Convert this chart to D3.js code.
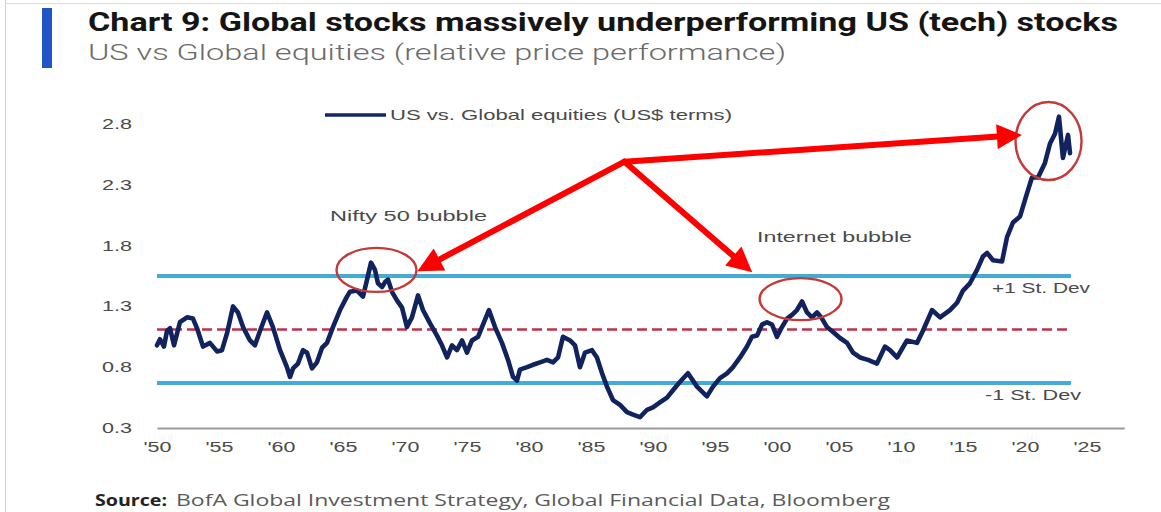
<!DOCTYPE html>
<html>
<head>
<meta charset="utf-8">
<script src="https://cdn.jsdelivr.net/npm/d3@7/dist/d3.min.js"></script>
<style>
  html, body { margin: 0; padding: 0; background: #fff; }
  svg { display: block; }
</style>
</head>
<body>
<svg id="chart" width="1161" height="512"></svg>
<script>
// US vs Global equities, relative price performance (US$ terms)
const years = [
  1950.00, 1950.24, 1950.56, 1950.81, 1951.05, 1951.37, 1951.85, 1952.42, 1952.90, 1953.23,
  1953.71, 1954.27, 1954.84, 1955.24, 1955.65, 1956.13, 1956.53, 1956.94, 1957.50, 1957.90,
  1958.31, 1958.87, 1959.35, 1959.92, 1960.48, 1960.73, 1960.97, 1961.37, 1961.77, 1962.10,
  1962.50, 1962.90, 1963.31, 1963.71, 1964.19, 1964.76, 1965.32, 1965.56, 1966.13, 1966.61,
  1966.94, 1967.26, 1967.58, 1967.82, 1968.15, 1968.39, 1968.63, 1968.95, 1969.35, 1969.76,
  1970.16, 1970.56, 1971.05, 1971.45, 1972.02, 1972.58, 1972.98, 1973.39, 1973.79, 1974.19,
  1974.60, 1975.00, 1975.40, 1975.89, 1976.29, 1976.77, 1977.26, 1977.82, 1978.31, 1978.71,
  1979.03, 1979.27, 1979.84, 1980.32, 1980.89, 1981.45, 1981.94, 1982.34, 1982.74, 1983.31,
  1983.71, 1984.11, 1984.52, 1985.08, 1985.48, 1985.89, 1986.29, 1986.77, 1987.34, 1987.90,
  1988.39, 1988.95, 1989.52, 1990.00, 1990.56, 1991.13, 1991.61, 1992.18, 1992.82, 1993.55,
  1994.35, 1994.84, 1995.40, 1995.97, 1996.45, 1997.02, 1997.58, 1997.98, 1998.39, 1998.79,
  1999.19, 1999.60, 2000.00, 2000.40, 2000.81, 2001.21, 2001.61, 2002.02, 2002.42, 2002.82,
  2003.23, 2003.63, 2004.03, 2004.52, 2005.08, 2005.65, 2006.13, 2006.69, 2007.34, 2008.06,
  2008.71, 2009.11, 2009.68, 2010.48, 2011.29, 2011.77, 2012.50, 2013.15, 2013.95, 2014.52,
  2015.00, 2015.56, 2016.13, 2016.61, 2016.94, 2017.42, 2018.15, 2018.55, 2019.03, 2019.60,
  2020.16, 2020.56, 2021.05, 2021.61, 2022.02, 2022.42, 2022.74, 2023.06, 2023.47, 2023.63
];
const usVsGlobal = [
  0.98, 1.03, 0.97, 1.10, 1.12, 0.98, 1.17, 1.21, 1.20, 1.12,
  0.97, 1.00, 0.93, 0.94, 1.08, 1.30, 1.25, 1.13, 1.02, 0.98,
  1.10, 1.25, 1.13, 0.94, 0.80, 0.72, 0.79, 0.83, 0.94, 0.92,
  0.79, 0.84, 0.96, 1.00, 1.13, 1.27, 1.38, 1.42, 1.43, 1.38,
  1.52, 1.66, 1.60, 1.49, 1.46, 1.50, 1.52, 1.42, 1.35, 1.29,
  1.13, 1.21, 1.39, 1.27, 1.16, 1.06, 0.98, 0.88, 0.98, 0.94,
  1.02, 0.92, 1.02, 1.05, 1.15, 1.27, 1.13, 1.00, 0.86, 0.72,
  0.69, 0.78, 0.80, 0.82, 0.84, 0.86, 0.84, 0.88, 1.05, 1.02,
  0.98, 0.80, 0.92, 0.94, 0.88, 0.75, 0.64, 0.53, 0.49, 0.43,
  0.41, 0.39, 0.45, 0.47, 0.51, 0.55, 0.61, 0.68, 0.75, 0.64,
  0.56, 0.64, 0.71, 0.75, 0.80, 0.88, 0.97, 1.05, 1.06, 1.15,
  1.17, 1.15, 1.05, 1.13, 1.20, 1.23, 1.27, 1.34, 1.25, 1.21,
  1.25, 1.20, 1.13, 1.09, 1.04, 1.00, 0.92, 0.88, 0.86, 0.83,
  0.97, 0.94, 0.88, 1.02, 1.00, 1.10, 1.27, 1.21, 1.27, 1.33,
  1.43, 1.49, 1.60, 1.71, 1.74, 1.68, 1.67, 1.87, 1.99, 2.04,
  2.23, 2.36, 2.36, 2.48, 2.64, 2.72, 2.86, 2.52, 2.71, 2.56
];

// Long-run mean and one standard deviation either side
const meanLevel = 1.11;
const stdDev = 0.44;

const xTickYears = [1950, 1955, 1960, 1965, 1970, 1975, 1980, 1985, 1990, 1995, 2000, 2005, 2010, 2015, 2020, 2025];
const yTickValues = [0.3, 0.8, 1.3, 1.8, 2.3, 2.8];

const titleText = "Chart 9: Global stocks massively underperforming US (tech) stocks";
const subtitleText = "US vs Global equities (relative price performance)";
const legendText = "US vs. Global equities (US$ terms)";
const sourceLabel = "Source:";
const sourceText = "BofA Global Investment Strategy, Global Financial Data, Bloomberg";

// Highlighted episodes: [centre year, centre value]
const bubbleNames = ["Nifty 50 bubble", "Internet bubble"];
const highlightCentres = [[1967.7, 1.60], [2001.9, 1.36], [2021.9, 2.66]];
const arrowOrigin = [1987.7, 2.49];
const arrowTips = [[1971.0, 1.59], [1998.0, 1.58], [2019.75, 2.71]];

const svg = d3.select("#chart");
const W = 1161, H = 512;

const x = d3.scaleLinear().domain([1950, 2028]).range([157, 157 + 78 * 12.4]);
const y = d3.scaleLinear().domain([0.3, 2.8]).range([428, 124]);

// frame
svg.append("rect").attr("width", W).attr("height", H).attr("fill", "#fff");
svg.append("line").attr("x1", 5.5).attr("x2", 5.5).attr("y1", 0).attr("y2", H)
  .attr("stroke", "#cfcfcf").attr("stroke-width", 1);
svg.append("line").attr("x1", 5).attr("x2", W).attr("y1", 3.5).attr("y2", 3.5)
  .attr("stroke", "#dcdcdc").attr("stroke-width", 1);

// heading
svg.append("rect").attr("x", 42).attr("y", 8).attr("width", 10).attr("height", 60).attr("fill", "#1f55c6");
svg.append("text").attr("x", 88).attr("y", 31)
  .attr("font-family", "Roboto, 'Liberation Sans', sans-serif").attr("font-weight", 700)
  .attr("font-size", 25).attr("fill", "#151515")
  .attr("textLength", 1030).attr("lengthAdjust", "spacingAndGlyphs")
  .text(titleText);
svg.append("text").attr("x", 88).attr("y", 60)
  .attr("font-family", "Roboto, 'Liberation Sans', sans-serif").attr("font-weight", 300)
  .attr("font-size", 22).attr("fill", "#6a6a6a")
  .attr("textLength", 698).attr("lengthAdjust", "spacingAndGlyphs")
  .text(subtitleText);

// axes
const xAxis = d3.axisBottom(x).tickValues(xTickYears).tickSize(0).tickSizeOuter(0).tickPadding(14)
  .tickFormat(d => "'" + String(d % 100).padStart(2, "0"));
const gx = svg.append("g").attr("transform", `translate(0,${y(0.3)})`).call(xAxis);
gx.select(".domain").attr("stroke", "#9a9a9a").attr("stroke-width", 2);
gx.selectAll("text")
  .attr("font-family", "'Liberation Sans', Arial, sans-serif").attr("font-size", 14).attr("fill", "#4a4a4a")
  .attr("textLength", 28).attr("lengthAdjust", "spacingAndGlyphs");

const yAxis = d3.axisLeft(y).tickValues(yTickValues).tickSize(0).tickPadding(0).tickFormat(d3.format(".1f"));
const gy = svg.append("g").attr("transform", "translate(132,0)").call(yAxis);
gy.select(".domain").remove();
gy.selectAll("text")
  .attr("font-family", "'Liberation Sans', Arial, sans-serif").attr("font-size", 14).attr("fill", "#4a4a4a")
  .attr("textLength", 30).attr("lengthAdjust", "spacingAndGlyphs");

// reference levels
const refStart = 1950, refEnd = 2023.7;
[meanLevel + stdDev, meanLevel - stdDev].forEach(v => {
  svg.append("line").attr("x1", x(refStart)).attr("x2", x(refEnd)).attr("y1", y(v)).attr("y2", y(v))
    .attr("stroke", "#1d86b8").attr("stroke-width", 3.4);
  svg.append("line").attr("x1", x(refStart)).attr("x2", x(refEnd)).attr("y1", y(v)).attr("y2", y(v))
    .attr("stroke", "#3cc0ec").attr("stroke-width", 1.6);
});
svg.append("line").attr("x1", x(refStart)).attr("x2", x(refEnd)).attr("y1", y(meanLevel)).attr("y2", y(meanLevel))
  .attr("stroke", "#c2304c").attr("stroke-width", 2.6).attr("stroke-dasharray", "10 5");

// series
const series = years.map((t, i) => [t, usVsGlobal[i]]);
svg.append("path").datum(series)
  .attr("fill", "none").attr("stroke", "#11235f").attr("stroke-width", 4.6)
  .attr("stroke-linejoin", "round").attr("stroke-linecap", "round")
  .attr("d", d3.line().x(d => x(d[0])).y(d => y(d[1])));

// legend
svg.append("line").attr("x1", 325).attr("x2", 386).attr("y1", 115).attr("y2", 115)
  .attr("stroke", "#14276a").attr("stroke-width", 3.5);
svg.append("text").attr("x", 390).attr("y", 120)
  .attr("font-family", "'Liberation Sans', Arial, sans-serif").attr("font-size", 14.5).attr("fill", "#4a4a4a")
  .attr("textLength", 342).attr("lengthAdjust", "spacingAndGlyphs")
  .text(legendText);

// labels
const labelFont = "'Liberation Sans', Arial, sans-serif";
svg.append("text").attr("x", 330).attr("y", 221)
  .attr("font-family", labelFont).attr("font-size", 15).attr("fill", "#4a4a4a")
  .attr("textLength", 157).attr("lengthAdjust", "spacingAndGlyphs").text(bubbleNames[0]);
svg.append("text").attr("x", 757).attr("y", 242)
  .attr("font-family", labelFont).attr("font-size", 15).attr("fill", "#4a4a4a")
  .attr("textLength", 155).attr("lengthAdjust", "spacingAndGlyphs").text(bubbleNames[1]);
svg.append("text").attr("x", 992).attr("y", y(meanLevel + stdDev) + 17)
  .attr("font-family", labelFont).attr("font-size", 15).attr("fill", "#4a4a4a")
  .attr("textLength", 98).attr("lengthAdjust", "spacingAndGlyphs").text("+1 St. Dev");
svg.append("text").attr("x", 985).attr("y", y(meanLevel - stdDev) + 17)
  .attr("font-family", labelFont).attr("font-size", 15).attr("fill", "#4a4a4a")
  .attr("textLength", 96).attr("lengthAdjust", "spacingAndGlyphs").text("-1 St. Dev");

// highlight rings
const ringSizes = [[40, 22], [41, 21], [33, 39]];
highlightCentres.forEach((c, i) => {
  svg.append("ellipse").attr("cx", x(c[0])).attr("cy", y(c[1]))
    .attr("rx", ringSizes[i][0]).attr("ry", ringSizes[i][1])
    .attr("fill", "none").attr("stroke", "#c33a3a").attr("stroke-width", 2.4);
});

// pointer arrows
const defs = svg.append("defs");
defs.append("marker").attr("id", "head").attr("viewBox", "0 0 10 10")
  .attr("refX", 10).attr("refY", 5).attr("markerWidth", 27).attr("markerHeight", 25)
  .attr("markerUnits", "userSpaceOnUse").attr("orient", "auto")
  .append("path").attr("d", "M0,0 L10,5 L0,10 Z").attr("fill", "#ff0000");
arrowTips.forEach(t => {
  const x0 = x(arrowOrigin[0]), y0 = y(arrowOrigin[1]);
  const x1 = x(t[0]), y1 = y(t[1]);
  const len = Math.hypot(x1 - x0, y1 - y0);
  const k = (len - 20) / len;
  svg.append("line").attr("x1", x0).attr("y1", y0)
    .attr("x2", x0 + (x1 - x0) * k).attr("y2", y0 + (y1 - y0) * k)
    .attr("stroke", "#ff0000").attr("stroke-width", 6).attr("stroke-linecap", "round");
  svg.append("line").attr("x1", x0 + (x1 - x0) * k).attr("y1", y0 + (y1 - y0) * k)
    .attr("x2", x1).attr("y2", y1)
    .attr("stroke", "#ff0000").attr("stroke-width", 0.1).attr("marker-end", "url(#head)");
});

// source
svg.append("text").attr("x", 95).attr("y", 506)
  .attr("font-family", "'Open Sans', 'Liberation Sans', sans-serif").attr("font-weight", 700)
  .attr("font-size", 16).attr("fill", "#222")
  .attr("textLength", 72).attr("lengthAdjust", "spacingAndGlyphs").text(sourceLabel);
svg.append("text").attr("x", 176).attr("y", 506)
  .attr("font-family", "'Open Sans', 'Liberation Sans', sans-serif").attr("font-weight", 400)
  .attr("font-size", 16).attr("fill", "#5a5a5a")
  .attr("textLength", 714).attr("lengthAdjust", "spacingAndGlyphs").text(sourceText);
</script>
</body>
</html>
